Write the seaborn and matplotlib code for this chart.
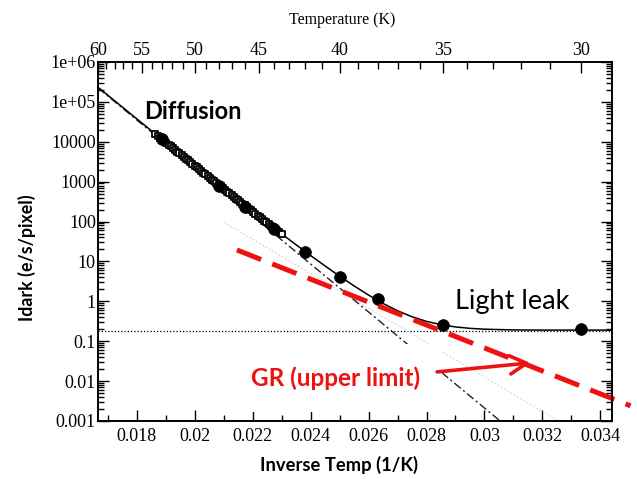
import matplotlib
matplotlib.use("Agg")
import matplotlib.pyplot as plt
import seaborn as sns
from matplotlib.ticker import FixedLocator, LogLocator, NullFormatter

# ---- data -----------------------------------------------------------------
# dense dark-current sweep (open squares): inverse temperature (1/K), e/s/pixel
sweep_x = [0.018650, 0.018725, 0.018800, 0.018875, 0.018950, 0.019025,
           0.019100, 0.019175, 0.019250, 0.019325, 0.019400, 0.019475,
           0.019550, 0.019625, 0.019700, 0.019775, 0.019850, 0.019925,
           0.020000, 0.020075, 0.020150, 0.020225, 0.020300, 0.020375,
           0.020450, 0.020525, 0.020600, 0.020675, 0.020750, 0.020825,
           0.020900, 0.020975, 0.021050, 0.021125, 0.021200, 0.021275,
           0.021350, 0.021425, 0.021500, 0.021575, 0.021650, 0.021725,
           0.021800, 0.021875, 0.021950, 0.022025, 0.022100, 0.022175,
           0.022250, 0.022325, 0.022400, 0.022475, 0.022550, 0.022625,
           0.022700, 0.022775, 0.022850, 0.022925, 0.023000]
sweep_y = [15600, 14080, 12700, 11490, 10400, 9390, 8470, 7660, 6920, 6250,
           5640, 5100, 4610, 4170, 3770, 3410, 3080, 2790, 2520, 2280, 2060,
           1860, 1680, 1520, 1380, 1250, 1130, 1021, 923, 835, 756, 685, 620,
           562, 509, 461, 417, 378, 343, 310, 281, 255, 231, 209, 190, 172,
           156, 141, 128, 116.5, 106, 96, 87, 79, 72, 65, 59, 54, 49]

# single-temperature measurements (filled circles)
point_T = [53, 48, 46, 44, 42, 40, 38, 35, 30]
point_y = [11500, 800, 225, 65, 17.5, 4.1, 1.15, 0.26, 0.2]

# total model: diffusion + generation-recombination + light leak
model_x = [0.016667, 0.018, 0.019, 0.020, 0.021, 0.022, 0.0225, 0.023, 0.0235,
           0.024, 0.0245, 0.025, 0.0255, 0.026, 0.0265, 0.027, 0.0275, 0.028,
           0.0285, 0.029, 0.0295, 0.030, 0.031, 0.032, 0.033, 0.0344]
model_y = [233000, 37800, 9700, 2515, 662, 178, 93.4, 49.2, 26.2, 14.1, 7.71,
           4.28, 2.44, 1.435, 0.884, 0.58, 0.41, 0.314, 0.26, 0.228, 0.21, 0.2,
           0.192, 0.19, 0.19, 0.19]

# model components
diffusion_x = [0.016667, 0.03054]
diffusion_y = [2.25e5, 1e-3]
gr_x = [0.0210, 0.03255]
gr_y = [97, 1e-3]
leak_x = [0.016667, 0.0344]
leak_y = [0.185, 0.185]

# GR upper limit
gr_limit_x = [0.02146, 0.03504]
gr_limit_y = [19.4, 0.0024]

# ---- axes ticks -------------------------------------------------------------
y_ticks = [1e6, 1e5, 1e4, 1e3, 1e2, 1e1, 1, 0.1, 0.01, 0.001]
y_ticklabels = ["1e+06", "1e+05", "10000", "1000", "100", "10", "1", "0.1",
                "0.01", "0.001"]
x_ticks = [0.018, 0.020, 0.022, 0.024, 0.026, 0.028, 0.030, 0.032, 0.034]
x_ticklabels = ["0.018", "0.02", "0.022", "0.024", "0.026", "0.028", "0.03",
                "0.032", "0.034"]
x_minor = [0.017, 0.019, 0.021, 0.023, 0.025, 0.027, 0.029, 0.031, 0.033]
temp_major = [60, 55, 50, 45, 40, 35, 30]
temp_minor = list(range(30, 61))

X_MIN, X_MAX = 1 / 60, 0.0344
Y_MIN, Y_MAX = 1e-3, 1e6

# ---- style ------------------------------------------------------------------
sns.set_theme(style="ticks")
plt.rcParams["font.family"] = ["Lato", "DejaVu Sans"]
SERIF = "Liberation Serif"
RED = "#ee1111"

fig = plt.figure(figsize=(6.37, 4.79), dpi=100)
ax = fig.add_axes([0.1538, 0.1211, 0.8070, 0.7495])

# component lines
sns.lineplot(x=leak_x, y=leak_y, ax=ax, color="black", lw=0.9,
             linestyle=(0, (1, 1.6)), zorder=1)
sns.lineplot(x=gr_x, y=gr_y, ax=ax, color="#d8d8d8", lw=0.9,
             linestyle=(0, (1.5, 1.5)), zorder=1)
sns.lineplot(x=diffusion_x, y=diffusion_y, ax=ax, color="#222222", lw=1.0,
             linestyle=(0, (6, 2.2, 1.5, 2.2)), zorder=2)

# total model curve
sns.lineplot(x=model_x, y=model_y, ax=ax, color="black", lw=1.1,
             sort=False, zorder=3)

# measurements
sns.scatterplot(x=sweep_x, y=sweep_y, ax=ax, marker="s", s=20,
                color="white", edgecolor="black", linewidth=1.3, zorder=4)
sns.scatterplot(x=[1 / t for t in point_T], y=point_y, ax=ax, marker="o",
                s=72, color="black", edgecolor="black", linewidth=0.5, zorder=5)

ax.set_xscale("linear")
ax.set_yscale("log")
ax.set_xlim(X_MIN, X_MAX)
ax.set_ylim(Y_MIN, Y_MAX)

# bottom axis ticks
ax.xaxis.set_major_locator(FixedLocator(x_ticks))
ax.set_xticklabels(x_ticklabels)
ax.xaxis.set_minor_locator(FixedLocator(x_minor))

# log y ticks
ax.yaxis.set_major_locator(FixedLocator(y_ticks))
ax.set_yticklabels(y_ticklabels)
ax.yaxis.set_minor_locator(LogLocator(base=10, subs=range(2, 10), numticks=50))
ax.yaxis.set_minor_formatter(NullFormatter())

ax.tick_params(which="both", direction="in", right=True, top=False,
               colors="black", width=1.0, labelfontfamily=SERIF,
               labelsize=13)
ax.tick_params(axis="y", pad=1.5)
ax.tick_params(axis="x", pad=5)
ax.tick_params(which="major", length=8)
ax.tick_params(which="minor", length=4.5)
for s in ax.spines.values():
    s.set_linewidth(1.2)
    s.set_color("black")

# temperature axis on top
top = ax.twiny()
top.set_xlim(X_MIN, X_MAX)
top.xaxis.set_major_locator(FixedLocator([1 / t for t in temp_major]))
top.set_xticklabels([str(t) for t in temp_major])
top.xaxis.set_minor_locator(FixedLocator([1 / t for t in temp_minor]))
top.tick_params(which="both", direction="in", colors="black", width=1.0,
                labelfontfamily=SERIF, labelsize=13, pad=2)
top.tick_params(which="major", length=8)
top.tick_params(which="minor", length=5)
for s in top.spines.values():
    s.set_linewidth(1.2)
    s.set_color("black")
top.set_xlabel("Temperature (K)", family=SERIF, fontsize=11.5, color="black")
top.xaxis.set_label_coords(0.475, 1.117)
top.xaxis.label.set_verticalalignment("center")

# axis labels
ax.set_xlabel("Inverse Temp (1/K)", fontsize=13.2, fontweight="bold",
              color="black")
ax.xaxis.set_label_coords(0.469, -0.1226)
ax.xaxis.label.set_verticalalignment("center")
ax.set_ylabel("Idark (e/s/pixel)", fontsize=12.8, fontweight="bold",
              color="black")
ax.yaxis.set_label_coords(-0.138, 0.455)
ax.yaxis.label.set_verticalalignment("center")

# annotations
ax.text(0.018276, 55800, "Diffusion", fontsize=17, fontweight="bold",
        color="black", ha="left", va="center", zorder=6)
ax.text(0.028988, 0.966, "Light leak", fontsize=19.5, color="black",
        ha="left", va="center", zorder=6)

sns.lineplot(x=gr_limit_x, y=gr_limit_y, ax=ax, color=RED, lw=3.6,
             linestyle=(0, (5.2, 2.4)), clip_on=False, zorder=7)

ax.text(0.024876, 0.012, "GR (upper limit)", fontsize=17.5, fontweight="bold",
        color=RED, ha="center", va="center", zorder=6,
        bbox=dict(boxstyle="square,pad=0.9", facecolor="white",
                  edgecolor="none"))
ax.annotate("", xy=(0.03158, 0.0286), xytext=(0.028366, 0.017),
            arrowprops=dict(arrowstyle="->,head_length=1.0,head_width=0.55",
                            color=RED, lw=2.6, shrinkA=0, shrinkB=0),
            zorder=8)

fig.savefig("out.png", dpi=100)
